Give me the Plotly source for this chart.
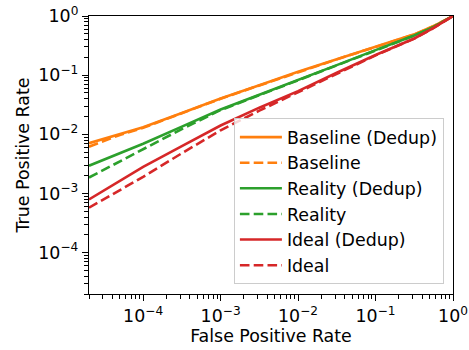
import plotly.graph_objects as go

# False positive rate sample points (shared)
fpr = [2e-5, 5e-5, 1e-4, 3.16e-4, 1e-3, 3.16e-3, 1e-2, 3.16e-2, 1e-1, 3.16e-1, 5.62e-1, 1.0]

# True positive rates
baseline_dedup = [7.08e-3, 1.02e-2, 1.32e-2, 2.29e-2, 4.03e-2, 6.76e-2, 1.14e-1, 1.86e-1, 3.02e-1, 4.90e-1, 6.76e-1, 1.0]
baseline       = [6.17e-3, 9.77e-3, 1.29e-2, 2.27e-2, 4.00e-2, 6.70e-2, 1.13e-1, 1.85e-1, 3.00e-1, 4.88e-1, 6.74e-1, 1.0]
reality_dedup  = [2.95e-3, 4.79e-3, 6.92e-3, 1.35e-2, 2.63e-2, 4.68e-2, 8.22e-2, 1.48e-1, 2.65e-1, 4.68e-1, 6.53e-1, 1.0]
reality        = [1.86e-3, 3.47e-3, 5.50e-3, 1.23e-2, 2.57e-2, 4.60e-2, 8.10e-2, 1.46e-1, 2.63e-1, 4.66e-1, 6.51e-1, 1.0]
ideal_dedup    = [7.94e-4, 1.66e-3, 2.82e-3, 6.31e-3, 1.41e-2, 2.82e-2, 5.37e-2, 1.10e-1, 2.19e-1, 4.17e-1, 6.31e-1, 1.0]
ideal          = [5.75e-4, 1.15e-3, 1.91e-3, 4.79e-3, 1.17e-2, 2.51e-2, 5.13e-2, 1.07e-1, 2.16e-1, 4.14e-1, 6.28e-1, 1.0]

names = ["Baseline (Dedup)", "Baseline", "Reality (Dedup)", "Reality", "Ideal (Dedup)", "Ideal"]
series = [baseline_dedup, baseline, reality_dedup, reality, ideal_dedup, ideal]
colors = ["#ff7f0e", "#ff7f0e", "#2ca02c", "#2ca02c", "#d62728", "#d62728"]
dashes = ["solid", "9.6px,4.2px", "solid", "9.6px,4.2px", "solid", "9.6px,4.2px"]

major_vals = [1e-4, 1e-3, 1e-2, 1e-1, 1.0]
major_text = ["10<sup>−4</sup>", "10<sup>−3</sup>", "10<sup>−2</sup>", "10<sup>−1</sup>", "10<sup>0</sup>"]

minor_vals = [m * 10.0 ** e for e in range(-5, 0) for m in range(2, 10)]

fig = go.Figure()
for i, (nm, ys) in enumerate(zip(names, series)):
    fig.add_trace(go.Scatter(
        x=fpr, y=ys, mode="lines", name=nm, legendgroup=str(i),
        line=dict(color=colors[i], width=2.6, dash=dashes[i]),
    ))

font = dict(family="DejaVu Sans", size=17.4, color="black")
axis_common = dict(
    type="log", showline=True, mirror=True, linecolor="black", linewidth=1.3,
    ticks="outside", ticklen=6, tickwidth=1.3, tickcolor="black",
    showgrid=False, zeroline=False, tickfont=font, automargin=False,
    minor=dict(tickvals=minor_vals, ticks="outside", ticklen=3.5, tickwidth=1,
               tickcolor="black", showgrid=False),
)

fig.update_layout(
    width=469, height=350,
    margin=dict(l=89, r=16, t=16, b=56),
    paper_bgcolor="white", plot_bgcolor="white",
    font=font,
    xaxis=dict(axis_common, range=[-4.699, 0], tickvals=major_vals, ticktext=major_text,
               title=dict(text="False Positive Rate", font=font, standoff=0)),
    yaxis=dict(axis_common, range=[-4.699, 0], tickvals=major_vals, ticktext=major_text,
               title=dict(text="True Positive Rate", font=font, standoff=4)),
    legend=dict(x=0.975, y=0.035, xanchor="right", yanchor="bottom",
                bgcolor="rgba(255,255,255,0.8)", bordercolor="#cccccc", borderwidth=1,
                font=font, tracegroupgap=0, itemwidth=42),
    showlegend=True,
)

fig.write_html("out.html", config={"displayModeBar": False},
               post_script="document.body.style.margin='0';document.body.style.padding='0';")
